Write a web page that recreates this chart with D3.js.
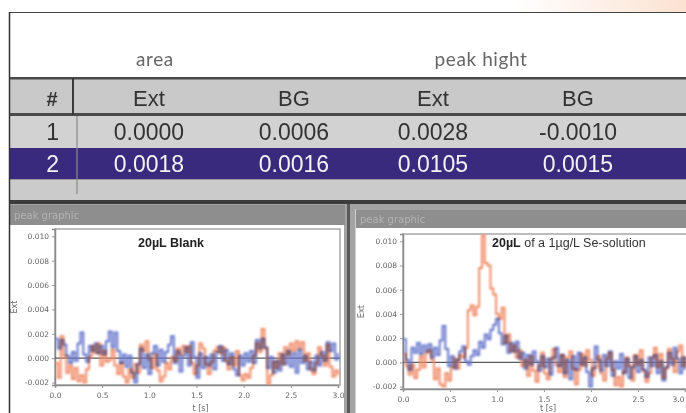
<!DOCTYPE html>
<html><head><meta charset="utf-8">
<script src="https://cdn.jsdelivr.net/npm/d3@7"></script>
<style>
html,body{margin:0;padding:0;background:#fff;}
svg{display:block;}
</style></head>
<body>
<svg id="c" width="686" height="413"></svg>
<script>
// ---------- table data ----------
const groupHeaders = ["area", "peak hight"];
const columnHeaders = ["#", "Ext", "BG", "Ext", "BG"];
const rowIds = [1, 2];
const areaExt = [0.0000, 0.0018];
const areaBG = [0.0006, 0.0016];
const peakExt = [0.0028, 0.0105];
const peakBG = [-0.0010, 0.0015];

// ---------- chart data (values in units of 0.001, one sample every 0.03 s) ----------
const sampleStep = 0.03;
const blankExt = [-0.4,-1.6,1.8,0.2,-1.2,-0.6,-1.7,-0.8,-1.9,-1.4,-2.0,-0.9,0.1,1.0,0.4,1.2,-0.6,0.6,-0.3,-0.1,
  0.7,-0.6,-1.3,-0.4,-1.5,-2.0,-0.9,-1.6,-0.5,-1.2,1.1,0.6,1.4,-0.1,-0.8,0.3,-1.0,-1.9,-1.5,-0.4,
  -0.9,0.1,-0.2,0.8,0.3,1.0,0.5,1.0,-0.4,-1.3,-0.6,1.2,0.8,-0.5,-1.3,-0.3,0.6,0.9,0.4,0.9,
  -0.2,-0.9,0.1,-0.6,0.6,-1.4,-1.8,-1.3,-1.6,-0.8,0.2,1.2,0.5,2.4,0.8,-2.1,-1.4,-0.3,-0.8,0.4,
  -0.5,0.9,0.3,1.2,0.6,1.4,0.8,1.3,-0.2,0.4,-0.9,-1.3,-0.4,0.9,0.2,-0.6,1.1,-0.7,-1.5,-1.0,-1.4];
const blankBG = [1.6,0.8,1.5,1.1,0.2,-0.4,0.5,-0.2,1.2,2.1,0.3,-0.3,1.0,0.6,1.2,0.4,1.0,0.3,1.4,2.2,
  0.9,2.1,0.6,-0.4,0.3,-0.7,0.2,-1.2,-2.0,-0.5,0.8,-0.8,0.3,-1.3,0.4,1.0,-0.6,0.7,-0.3,0.5,
  1.1,1.8,-0.4,0.6,-1.1,0.2,0.9,-0.6,1.3,0.1,-1.6,0.4,-0.8,0.1,-0.6,0.3,-0.9,0.5,1.0,-0.2,
  0.7,-0.5,0.4,-0.9,-1.4,0.2,-0.6,0.4,-0.3,0.6,-0.4,1.5,0.8,1.6,0.9,-0.8,0.1,-1.2,-0.2,-1.0,
  0.3,-0.5,0.6,-0.7,0.4,-1.2,0.7,-0.4,0.2,-0.9,-0.3,-1.0,0.2,-0.6,0.5,-0.2,1.3,0.6,1.2,-0.1,0.4];
const seExt = [0.7,-0.3,-1.0,-0.2,-1.3,-0.6,0.5,-0.4,0.8,1.0,0.2,-1.4,-0.5,-1.8,-2.0,-0.9,-1.5,-0.4,0.3,-0.5,
  0.6,0.4,1.2,4.3,4.7,3.9,4.6,7.8,10.5,8.2,8.0,6.1,5.6,4.0,3.6,4.5,1.6,2.3,0.9,1.4,
  0.4,1.0,-0.3,0.2,-1.1,0.5,-0.7,-1.6,-0.3,0.8,-0.9,-1.4,0.3,1.1,-0.2,-0.8,0.6,-1.2,0.4,0.9,
  -0.5,-1.8,-0.6,0.7,-0.3,1.0,0.2,-1.1,-0.4,0.5,-0.9,-1.5,0.3,0.8,-0.6,-1.9,-1.2,-2.0,-0.8,0.4,
  -0.3,-1.5,0.6,-0.2,1.0,-0.7,-1.6,-0.9,0.4,1.2,-0.4,0.7,-1.3,-0.5,1.1,0.3,-0.8,0.9,1.4,-0.3,0.5];
const seBG = [1.9,0.2,-0.6,1.2,0.8,1.6,0.7,1.4,0.9,1.5,0.4,1.2,0.6,1.8,3.0,1.1,-0.3,0.5,-0.5,0.2,
  0.9,1.3,0.1,-0.2,0.5,1.0,0.6,1.7,1.2,2.3,1.9,2.7,3.1,3.6,2.4,1.5,2.2,0.8,1.6,0.9,
  1.7,0.3,0.8,-0.5,0.6,-0.2,0.9,0.1,-0.7,0.5,-0.4,0.3,-1.0,0.4,1.2,-0.3,0.6,-0.9,0.2,-1.4,
  0.5,-0.6,0.8,-0.2,0.4,-0.8,-2.0,-0.5,1.3,0.2,-0.7,0.6,-0.3,0.9,-1.1,0.1,-0.5,0.7,-0.9,0.3,
  -1.3,-0.4,0.5,-0.8,0.2,-0.6,-1.2,0.4,-0.3,0.6,-0.9,0.1,-1.5,-0.4,0.8,-0.2,1.2,0.3,-0.9,0.4,-0.6];

const yTickValues = [-2, 0, 2, 4, 6, 8, 10];
const yTickLabels = ["-0.002", "0.000", "0.002", "0.004", "0.006", "0.008", "0.010"];
const xTickValues = [0, 0.5, 1.0, 1.5, 2.0, 2.5, 3.0];
const xTickLabels = ["0.0", "0.5", "1.0", "1.5", "2.0", "2.5", "3.0"];
const chartTitles = [["20µL Blank", ""], ["20µL", " of a 1µg/L Se-solution"]];
const panelTitle = "peak graphic";

const svg = d3.select("#c");
const defs = svg.append("defs");
defs.append("filter").attr("id", "soft").append("feGaussianBlur").attr("stdDeviation", 0.45);
defs.append("filter").attr("id", "soft2").append("feGaussianBlur").attr("stdDeviation", 0.3);
defs.append("filter").attr("id", "softLine").attr("x", "-5%").attr("y", "-5%").attr("width", "110%").attr("height", "110%")
  .append("feGaussianBlur").attr("stdDeviation", 0.8);
const lg = defs.append("linearGradient").attr("id", "peach").attr("x1", 0).attr("x2", 1);
lg.append("stop").attr("offset", 0.75).attr("stop-color", "#ffffff");
lg.append("stop").attr("offset", 1).attr("stop-color", "#fbe2d2");

svg.append("rect").attr("x", 0).attr("y", 0).attr("width", 686).attr("height", 12).attr("fill", "url(#peach)");

// ---------- top table ----------
const fmt = d3.formatLocale({decimal: ".", thousands: ",", grouping: [3], currency: ["", ""], minus: "-"}).format(".4f");
const colX = [52, 149, 294, 433, 578];
const tbl = svg.append("g");
tbl.append("rect").attr("x", 9).attr("y", 12).attr("width", 677).attr("height", 66).attr("fill", "#fff");
tbl.append("line").attr("x1", 9).attr("x2", 686).attr("y1", 12.5).attr("y2", 12.5).attr("stroke", "#444").attr("stroke-width", 1);

const groupX = [155, 481];
tbl.selectAll("text.grp").data(groupHeaders).join("text").attr("class", "grp")
  .attr("x", (d, i) => groupX[i]).attr("y", 66).attr("text-anchor", "middle")
  .attr("font-family", "Lato, 'DejaVu Sans', sans-serif").attr("font-size", 19).attr("letter-spacing", 0.6)
  .attr("fill", "#666").text(d => d);

tbl.append("rect").attr("x", 9).attr("y", 78).attr("width", 677).attr("height", 37).attr("fill", "#c9c9c9");
tbl.append("rect").attr("x", 9).attr("y", 77).attr("width", 677).attr("height", 2.5).attr("fill", "#4a4a4a");
tbl.append("rect").attr("x", 9).attr("y", 113).attr("width", 677).attr("height", 3).attr("fill", "#4a4a4a");
tbl.append("rect").attr("x", 72).attr("y", 78).attr("width", 2).attr("height", 37).attr("fill", "#3a3a3a");
tbl.selectAll("text.hdr").data(columnHeaders).join("text").attr("class", "hdr")
  .attr("x", (d, i) => colX[i]).attr("y", 106).attr("text-anchor", "middle")
  .attr("font-family", "'Liberation Sans', Arial, sans-serif").attr("font-size", (d, i) => i === 0 ? 20 : 22)
  .attr("font-weight", (d, i) => i === 0 ? "bold" : "normal")
  .attr("fill", "#333").attr("filter", "url(#soft2)").text(d => d);

const rowY = [116, 148];
const rowH = [32, 31];
const rowFill = ["#d2d2d2", "#3a2a7e"];
const rowText = ["#333", "#f2f2f2"];
const cols = [areaExt, areaBG, peakExt, peakBG];
rowIds.forEach((id, r) => {
  tbl.append("rect").attr("x", 9).attr("y", rowY[r]).attr("width", 677).attr("height", rowH[r]).attr("fill", rowFill[r]);
  const base = rowY[r] + 24;
  tbl.append("text").attr("x", 59).attr("y", base).attr("text-anchor", "end")
    .attr("font-family", "'Liberation Sans', Arial, sans-serif").attr("font-size", 23)
    .attr("fill", rowText[r]).attr("filter", "url(#soft2)").text(id);
  cols.forEach((arr, c) => {
    tbl.append("text").attr("x", colX[c + 1]).attr("y", base).attr("text-anchor", "middle")
      .attr("font-family", "'Liberation Sans', Arial, sans-serif").attr("font-size", 23)
      .attr("fill", rowText[r]).attr("filter", "url(#soft2)").text(fmt(arr[r]));
  });
});
tbl.append("rect").attr("x", 9).attr("y", 179).attr("width", 677).attr("height", 21).attr("fill", "#cbcbcb");
tbl.append("line").attr("x1", 9).attr("x2", 686).attr("y1", 179.5).attr("y2", 179.5).attr("stroke", "#9a9a9a");
tbl.append("line").attr("x1", 77).attr("x2", 77).attr("y1", 116).attr("y2", 194).attr("stroke", "#8a8a8a").attr("stroke-width", 1.2);
tbl.append("rect").attr("x", 9).attr("y", 200).attr("width", 677).attr("height", 4).attr("fill", "#3c3c3c");

// ---------- bottom panels ----------
const bottom = svg.append("g");
bottom.append("rect").attr("x", 9).attr("y", 204).attr("width", 677).attr("height", 209).attr("fill", "#a3a3a3");
bottom.append("rect").attr("x", 9).attr("y", 205).attr("width", 336).attr("height", 20).attr("fill", "#8e8e8e");
bottom.append("rect").attr("x", 10).attr("y", 225).attr("width", 334).attr("height", 188).attr("fill", "#fff");
bottom.append("rect").attr("x", 347).attr("y", 204).attr("width", 3).attr("height", 209).attr("fill", "#5a5a5a");
bottom.append("rect").attr("x", 355).attr("y", 210).attr("width", 331).attr("height", 18).attr("fill", "#8e8e8e");
bottom.append("rect").attr("x", 356).attr("y", 228).attr("width", 330).attr("height", 185).attr("fill", "#fff");
bottom.append("line").attr("x1", 355.5).attr("x2", 355.5).attr("y1", 209).attr("y2", 413).attr("stroke", "#cfcfcf");
[[14, 219], [360, 223]].forEach(p => {
  bottom.append("text").attr("x", p[0]).attr("y", p[1]).attr("font-family", "'DejaVu Sans', sans-serif")
    .attr("font-size", 10).attr("fill", "#b3b3b3").attr("filter", "url(#soft)").text(panelTitle);
});
svg.append("line").attr("x1", 9.5).attr("x2", 9.5).attr("y1", 12).attr("y2", 413).attr("stroke", "#333").attr("stroke-width", 1.5);

// ---------- charts ----------
const charts = [
  {x0: 55, x1: 338, yTop: 229, yBot: 385, ext: blankExt, bg: blankBG, title: chartTitles[0], titleX: 138, clipId: "c1", labX: 17, lastEnd: false},
  {x0: 403, x1: 685, yTop: 234, yBot: 389, ext: seExt, bg: seBG, title: chartTitles[1], titleX: 492, clipId: "c2", labX: 364, lastEnd: true}
];
charts.forEach(ch => {
  const x = d3.scaleLinear().domain([0, 3]).range([ch.x0, ch.x1]);
  const y = d3.scaleLinear().domain([-2.2, 10.6]).range([ch.yBot, ch.yTop]);
  const g = svg.append("g");
  defs.append("clipPath").attr("id", ch.clipId).append("rect")
    .attr("x", ch.x0).attr("y", ch.yTop).attr("width", ch.x1 - ch.x0 + 6).attr("height", ch.yBot - ch.yTop);
  g.append("rect").attr("x", ch.x0).attr("y", ch.yTop).attr("width", ch.x1 - ch.x0 + 2).attr("height", ch.yBot - ch.yTop)
    .attr("fill", "#fff").attr("stroke", "#a8a8a8").attr("stroke-width", 1.5);

  const yAxis = d3.axisLeft(y).tickValues(yTickValues).tickFormat((d, i) => yTickLabels[i]).tickSize(3).tickPadding(3);
  const ya = g.append("g").attr("transform", `translate(${ch.x0},0)`).call(yAxis);
  const xAxis = d3.axisBottom(x).tickValues(xTickValues).tickFormat((d, i) => xTickLabels[i]).tickSize(3).tickPadding(5);
  const xa = g.append("g").attr("transform", `translate(0,${ch.yBot})`).call(xAxis);
  [ya, xa].forEach(a => {
    a.select(".domain").attr("stroke", "#8a8a8a").attr("stroke-width", 1.5);
    a.selectAll(".tick line").attr("stroke", "#999");
    a.selectAll("text").attr("font-family", "'DejaVu Sans', sans-serif").attr("font-size", 7.5).attr("fill", "#666").attr("filter", "url(#soft)");
  });
  if (ch.lastEnd) xa.selectAll(".tick text").filter((d, i) => i === xTickValues.length - 1).attr("text-anchor", "end").attr("dx", -1);
  g.append("text").attr("x", (ch.x0 + ch.x1) / 2 + 4).attr("y", 411).attr("text-anchor", "middle")
    .attr("font-family", "'DejaVu Sans', sans-serif").attr("font-size", 8).attr("fill", "#666").attr("filter", "url(#soft)").text("t [s]");
  g.append("text").attr("transform", `translate(${ch.labX},${(ch.yTop + ch.yBot) / 2}) rotate(-90)`).attr("text-anchor", "middle")
    .attr("font-family", "'DejaVu Sans', sans-serif").attr("font-size", 8).attr("fill", "#666").attr("filter", "url(#soft)").text("Ext");

  g.append("line").attr("x1", ch.x0).attr("x2", ch.x1 + 2).attr("y1", y(0)).attr("y2", y(0))
    .attr("stroke", "#5a5a5a").attr("stroke-width", 1.2);

  const lines = g.append("g").attr("clip-path", `url(#${ch.clipId})`);
  const line = d3.line().x((d, i) => x(i * sampleStep)).y(d => y(d)).curve(d3.curveStepAfter);
  lines.append("path").datum(ch.bg).attr("d", line).attr("fill", "none").attr("stroke", "#6877cc")
    .attr("stroke-width", 2).attr("style", "mix-blend-mode:multiply").attr("filter", "url(#softLine)");
  lines.append("path").datum(ch.ext).attr("d", line).attr("fill", "none").attr("stroke", "#f08a66")
    .attr("stroke-width", 2).attr("style", "mix-blend-mode:multiply").attr("filter", "url(#softLine)");

  const t = g.append("text").attr("x", ch.titleX).attr("y", 247)
    .attr("font-family", "'Liberation Sans', Arial, sans-serif").attr("font-size", 12.5).attr("fill", "#222").attr("filter", "url(#soft2)");
  t.append("tspan").attr("font-weight", "bold").text(ch.title[0]);
  if (ch.title[1]) t.append("tspan").attr("fill", "#333").text(ch.title[1]);
});
</script>
</body></html>
